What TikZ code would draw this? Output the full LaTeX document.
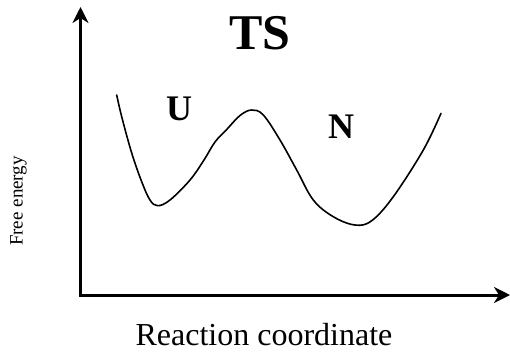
\documentclass[tikz,border=0pt]{standalone}
\usepackage{fontspec}
\setmainfont{Liberation Serif}
\usetikzlibrary{arrows.meta}
\tikzset{
  axis/.style={line width=3pt, -{Stealth[length=16pt,width=16pt,inset=5pt]}},
  energy/.style={line width=1.6pt, line join=round, line cap=round},
  statelabel/.style={font=\fontsize{36}{36}\selectfont\bfseries, inner sep=0pt},
}
\begin{document}
\begin{tikzpicture}[x=1pt,y=-1pt]
\useasboundingbox (0,0) rectangle (510,354);
\coordinate (origin) at (80.5,295);
\coordinate (ytip) at (80.5,7);
\coordinate (xtip) at (510,295);
\draw[axis] (origin) -- (ytip);
\draw[axis] ([xshift=-1.5pt]origin) -- (xtip);
\draw[energy] plot[smooth, tension=0.6] coordinates {
 (116.7,95) (121.7,116.7) (131.7,153) (141.7,181.7) (150,200) (157.7,205.7)
 (170,200) (190,180) (204,160) (215,142) (226.7,129.5) (240,115.5)
 (251.7,110) (263.3,115) (280,140) (296.7,170) (313.3,200) (333.3,216.7)
 (355,225) (371.7,220.7) (393.3,196.7) (423.3,150) (441,113.3)};
\node[font=\fontsize{50}{50}\selectfont\bfseries, inner sep=0pt] (ts) at (260,33) {TS};
\node[statelabel] (u) at (179,108.5) {U};
\node[statelabel] (n) at (341,127) {N};
\node[font=\fontsize{32}{32}\selectfont, anchor=base, inner sep=0pt] (xlabel) at (264,345) {Reaction coordinate};
\node[font=\fontsize{19}{19}\selectfont, rotate=90, inner sep=0pt] (ylabel) at (18.5,201) {Free energy};
\end{tikzpicture}
\end{document}
